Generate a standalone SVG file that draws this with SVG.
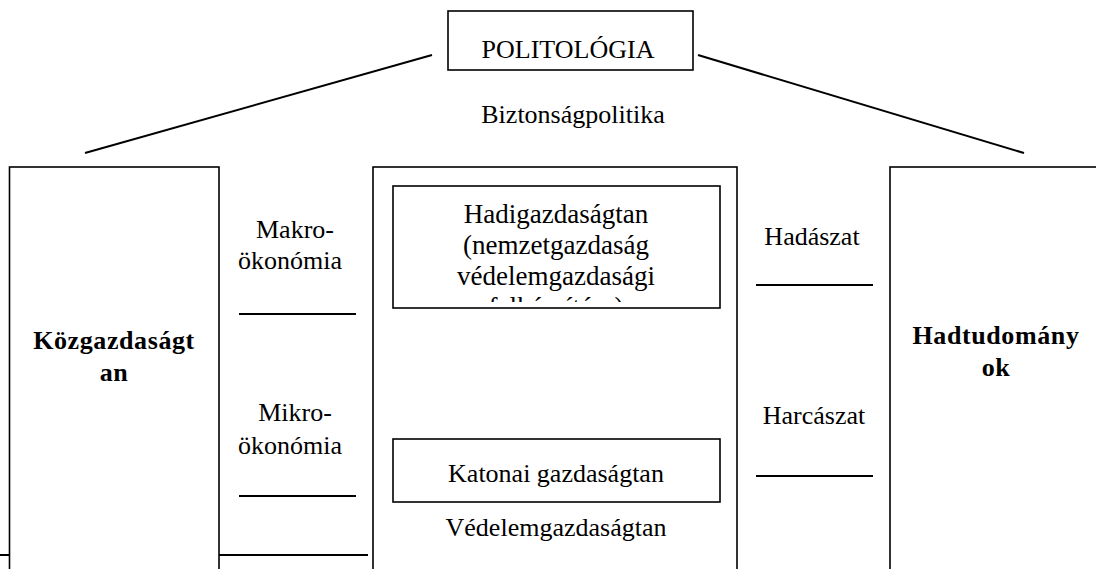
<svg xmlns="http://www.w3.org/2000/svg" width="1096" height="569" viewBox="0 0 1096 569">
<style>
text{font-family:"Liberation Serif","Times New Roman",serif;font-size:26px;fill:#000;text-anchor:middle}
.b{font-weight:bold;letter-spacing:0.6px}
.h{font-size:27px}
.box{fill:none;stroke:#000;stroke-width:1.6}
.ln{stroke:#000;stroke-width:2;fill:none}
</style>
<defs>
<clipPath id="clipHadi"><rect x="394" y="187" width="325" height="115"/></clipPath>
</defs>
<g id="connectors">
<line class="ln" x1="85" y1="153" x2="432" y2="55"/>
<line class="ln" x1="698" y1="55" x2="1024" y2="153"/>
<line class="ln" x1="239" y1="314" x2="356" y2="314"/>
<line class="ln" x1="239" y1="496" x2="356" y2="496"/>
<line class="ln" x1="756" y1="285" x2="873" y2="285"/>
<line class="ln" x1="756" y1="476" x2="873" y2="476"/>
<line class="ln" x1="219" y1="555" x2="368" y2="555"/>
<line class="ln" x1="0" y1="555" x2="9" y2="555"/>
</g>
<g id="politologia">
<rect class="box" x="448" y="11" width="245" height="59"/>
<text x="568" y="58">POLITOLÓGIA</text>
</g>
<g id="biztonsagpolitika">
<text x="573" y="123">Biztonságpolitika</text>
</g>
<g id="kozgazdasagtan">
<rect class="box" x="9.5" y="167" width="209.5" height="410"/>
<text class="b" x="114" y="349">Közgazdaságt</text>
<text class="b" x="114" y="381">an</text>
</g>
<g id="makro">
<text x="295" y="238">Makro-</text>
<text x="290" y="269">ökonómia</text>
</g>
<g id="mikro">
<text x="295" y="421">Mikro-</text>
<text x="290" y="454">ökonómia</text>
</g>
<g id="center">
<rect class="box" x="373" y="167" width="364" height="410"/>
</g>
<g id="hadigazdasagtan">
<rect class="box" x="393" y="186" width="327" height="122"/>
<g clip-path="url(#clipHadi)">
<text class="h" x="556" y="223">Hadigazdaságtan</text>
<text class="h" x="556" y="254">(nemzetgazdaság</text>
<text class="h" x="556" y="285">védelemgazdasági</text>
<text class="h" x="556" y="316">felkészítése)</text>
</g>
</g>
<g id="katonai">
<rect class="box" x="393" y="439" width="327" height="63"/>
<text x="556" y="482">Katonai gazdaságtan</text>
</g>
<g id="vedelemgazdasagtan">
<text x="556" y="536">Védelemgazdaságtan</text>
</g>
<g id="hadaszat">
<text x="812" y="245">Hadászat</text>
</g>
<g id="harcaszat">
<text x="814" y="424">Harcászat</text>
</g>
<g id="hadtudomanyok">
<rect class="box" x="890" y="167" width="220" height="410"/>
<text class="b" x="996" y="344">Hadtudomány</text>
<text class="b" x="996" y="376">ok</text>
</g>
</svg>
